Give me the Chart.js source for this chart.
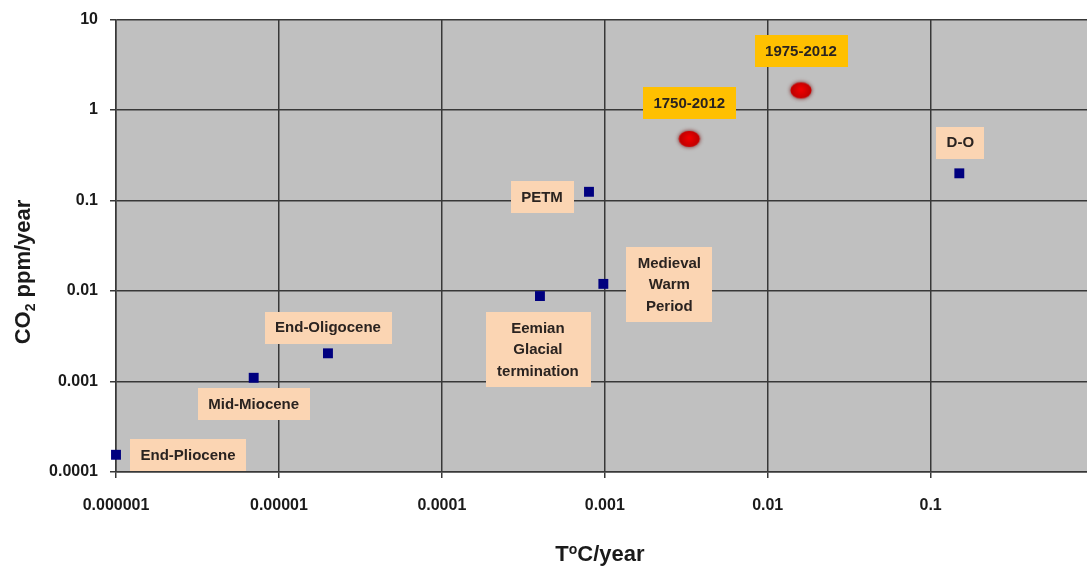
<!DOCTYPE html>
<html lang="en">
<head>
    <meta charset="UTF-8">
    <title>CO2 vs temperature rates</title>
    <style>
        body {
            margin: 0;
            padding: 0;
            background: #ffffff;
            overflow: hidden;
        }

        .wrap {
            width: 1116px;
            height: 572px;
            margin-top: -2px;
        }
    </style>
</head>
<body>
    <div class="wrap">
        <canvas id="myChart" width="1116" height="572"></canvas>
    </div>

    <script src="https://cdn.jsdelivr.net/npm/chart.js"></script>
    <script>
        // past events (blue squares)
        var eventNames = ['End-Pliocene', 'Mid-Miocene', 'End-Oligocene', 'Eemian\nGlacial\ntermination', 'Medieval\nWarm\nPeriod', 'PETM', 'D-O'];
        var eventTemp = [0.000001, 0.000007, 0.00002, 0.0004, 0.00098, 0.0008, 0.15];
        var eventCo2 = [0.000155, 0.0011, 0.00205, 0.0088, 0.012, 0.125, 0.2];

        // modern period (red dots)
        var modernNames = ['1750-2012', '1975-2012'];
        var modernTemp = [0.0033, 0.016];
        var modernCo2 = [0.48, 1.65];

        var xTicks = [0.000001, 0.00001, 0.0001, 0.001, 0.01, 0.1, 1];
        var xTickLabels = ['0.000001', '0.00001', '0.0001', '0.001', '0.01', '0.1', '1'];
        var yTicks = [0.0001, 0.001, 0.01, 0.1, 1, 10];
        var yTickLabels = ['0.0001', '0.001', '0.01', '0.1', '1', '10'];

        // where each label box sits relative to its point (px)
        var eventLabelOffsets = [[72, 0], [0, 26], [0, -26], [-2, 53], [66, 0], [-47, 5], [1, -31]];
        var modernLabelOffsets = [[0, -36], [0, -40]];

        var FONT = "'Liberation Sans', Arial, sans-serif";
        var gridColor = '#383838';

        function toPoints(xs, ys) {
            return xs.map(function (x, i) { return { x: x, y: ys[i] }; });
        }

        // red blurred ellipse used for the modern points
        function makeRedDot() {
            var c = document.createElement('canvas');
            c.width = 32;
            c.height = 26;
            var g = c.getContext('2d');
            g.shadowColor = 'rgba(110, 0, 0, 0.9)';
            g.shadowBlur = 4;
            g.fillStyle = '#cc0000';
            g.beginPath();
            g.ellipse(16, 13, 10.5, 8, 0, 0, Math.PI * 2);
            g.fill();
            g.shadowBlur = 0;
            var grad = g.createRadialGradient(16, 12, 1, 16, 13, 9);
            grad.addColorStop(0, '#ee0000');
            grad.addColorStop(1, '#c00000');
            g.fillStyle = grad;
            g.beginPath();
            g.ellipse(16, 13, 9.5, 7, 0, 0, Math.PI * 2);
            g.fill();
            return c;
        }

        var plotBackground = {
            id: 'plotBackground',
            beforeDraw: function (chart) {
                var a = chart.chartArea;
                var ctx = chart.ctx;
                ctx.save();
                ctx.fillStyle = '#c0c0c0';
                ctx.fillRect(a.left, a.top, a.right - a.left, a.bottom - a.top);
                ctx.restore();
            }
        };

        function drawBox(ctx, text, cx, cy, fill) {
            var lines = text.split('\n');
            ctx.font = 'bold 15px ' + FONT;
            var w = 0;
            lines.forEach(function (l) { w = Math.max(w, ctx.measureText(l).width); });
            var lh = 21.5;
            var bw = w + (lines.length > 1 ? 23 : 21);
            var bh = lines.length * lh + 10;
            ctx.fillStyle = fill;
            ctx.fillRect(Math.round(cx - bw / 2), Math.round(cy - bh / 2), Math.round(bw), Math.round(bh));
            ctx.fillStyle = '#2a2320';
            ctx.textAlign = 'center';
            ctx.textBaseline = 'middle';
            lines.forEach(function (l, i) {
                ctx.fillText(l, cx, cy - (lines.length - 1) * lh / 2 + i * lh + 1);
            });
        }

        var pointLabels = {
            id: 'pointLabels',
            afterDatasetsDraw: function (chart) {
                var ctx = chart.ctx;
                ctx.save();
                chart.getDatasetMeta(0).data.forEach(function (pt, i) {
                    var o = eventLabelOffsets[i];
                    drawBox(ctx, eventNames[i], pt.x + o[0], pt.y + o[1], '#fbd5b3');
                });
                chart.getDatasetMeta(1).data.forEach(function (pt, i) {
                    var o = modernLabelOffsets[i];
                    drawBox(ctx, modernNames[i], pt.x + o[0], pt.y + o[1], '#ffc000');
                });
                ctx.restore();
            }
        };

        // axis titles with sub/superscripts
        var axisTitles = {
            id: 'axisTitles',
            afterDraw: function (chart) {
                var ctx = chart.ctx;
                ctx.save();
                ctx.fillStyle = '#1a1a1a';
                ctx.textBaseline = 'alphabetic';
                ctx.textAlign = 'left';

                // x title: T°C/year
                var big = 'bold 22px ' + FONT;
                var small = 'bold 14px ' + FONT;
                ctx.font = big;
                var wT = ctx.measureText('T').width;
                var wRest = ctx.measureText('C/year').width;
                ctx.font = small;
                var wo = ctx.measureText('o').width;
                var total = wT + wo + wRest;
                var x0 = 600 - total / 2;
                var base = 563;
                ctx.font = big;
                ctx.fillText('T', x0, base);
                ctx.font = small;
                ctx.fillText('o', x0 + wT, base - 7);
                ctx.font = big;
                ctx.fillText('C/year', x0 + wT + wo, base);

                // y title: CO2 ppm/year
                ctx.translate(30, 274);
                ctx.rotate(-Math.PI / 2);
                ctx.font = big;
                var wCO = ctx.measureText('CO').width;
                var wTail = ctx.measureText(' ppm/year').width;
                ctx.font = small;
                var w2 = ctx.measureText('2').width;
                var tot = wCO + w2 + wTail;
                var s = -tot / 2;
                ctx.font = big;
                ctx.fillText('CO', s, 0);
                ctx.font = small;
                ctx.fillText('2', s + wCO, 5);
                ctx.font = big;
                ctx.fillText(' ppm/year', s + wCO + w2, 0);
                ctx.restore();
            }
        };

        var ctx = document.getElementById('myChart').getContext('2d');
        var myChart = new Chart(ctx, {
            type: 'scatter',
            data: {
                datasets: [{
                    label: 'Past events',
                    data: toPoints(eventTemp, eventCo2),
                    pointStyle: 'rect',
                    pointRadius: 7,
                    backgroundColor: '#00007f',
                    borderColor: '#00007f',
                    borderWidth: 0,
                    clip: false
                }, {
                    label: 'Modern',
                    data: toPoints(modernTemp, modernCo2),
                    pointStyle: makeRedDot(),
                    clip: false
                }]
            },
            options: {
                responsive: false,
                animation: false,
                layout: {
                    padding: { top: 17, right: 6, left: 0, bottom: 0 }
                },
                plugins: {
                    legend: { display: false },
                    tooltip: { enabled: false }
                },
                scales: {
                    x: {
                        type: 'logarithmic',
                        min: 0.000001,
                        max: 1,
                        afterBuildTicks: function (scale) {
                            scale.ticks = xTicks.map(function (v) { return { value: v }; });
                        },
                        afterFit: function (scale) { scale.height = 98; },
                        grid: {
                            color: gridColor,
                            lineWidth: 1.5,
                            tickLength: 6
                        },
                        border: { color: gridColor, width: 1.5 },
                        ticks: {
                            autoSkip: false,
                            maxRotation: 0,
                            padding: 18,
                            color: '#1a1a1a',
                            font: { family: FONT, size: 16, weight: 'bold' },
                            callback: function (value, index) { return xTickLabels[index]; }
                        }
                    },
                    y: {
                        type: 'logarithmic',
                        min: 0.0001,
                        max: 10,
                        afterBuildTicks: function (scale) {
                            scale.ticks = yTicks.map(function (v) { return { value: v }; });
                        },
                        afterFit: function (scale) { scale.width = 116; },
                        grid: {
                            color: gridColor,
                            lineWidth: 1.5,
                            tickLength: 6
                        },
                        border: { color: gridColor, width: 1.5 },
                        ticks: {
                            autoSkip: false,
                            padding: 12,
                            color: '#1a1a1a',
                            font: { family: FONT, size: 16, weight: 'bold' },
                            callback: function (value, index) { return yTickLabels[index]; }
                        }
                    }
                }
            },
            plugins: [plotBackground, pointLabels, axisTitles]
        });
    </script>
</body>
</html>
